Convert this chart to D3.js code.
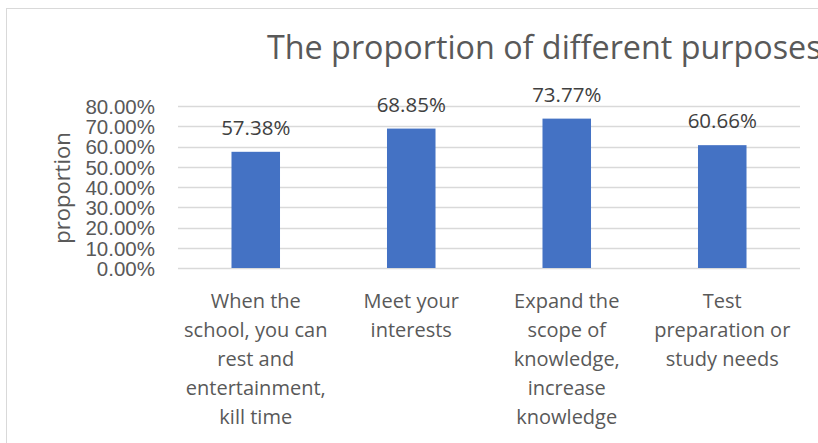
<!DOCTYPE html>
<html lang="en">
<head>
<meta charset="UTF-8">
<title>The proportion of different purposes</title>
<script src="https://d3js.org/d3.v7.min.js"></script>
<style>
    body { margin: 0; background: #fff; }
    svg { display: block; font-family: "Open Sans", sans-serif; }
    .tick text { fill: #595959; }
</style>
</head>
<body>
<div id="chart"></div>
<script>
    // 数据
    const categories = [
        ["When the", "school, you can", "rest and", "entertainment,", "kill time"],
        ["Meet your", "interests"],
        ["Expand the", "scope of", "knowledge,", "increase", "knowledge"],
        ["Test", "preparation or", "study needs"]
    ];
    const values = [0.5738, 0.6885, 0.7377, 0.6066];
    const yTicks = [0, 0.1, 0.2, 0.3, 0.4, 0.5, 0.6, 0.7, 0.8];

    const width = 818, height = 443;
    const plot = { left: 178, right: 800, top: 106, bottom: 268 };

    const svg = d3.select("#chart").append("svg")
        .attr("width", width)
        .attr("height", height);

    // 图表外框
    svg.append("rect")
        .attr("x", 6.5).attr("y", 8.5)
        .attr("width", 830).attr("height", 460)
        .attr("fill", "none")
        .attr("stroke", "#d9d9d9");

    const x = d3.scaleBand()
        .domain(d3.range(categories.length))
        .range([plot.left, plot.right])
        .paddingInner(0.688)
        .paddingOuter(0.344);

    const y = d3.scaleLinear()
        .domain([0, 0.8])
        .range([plot.bottom, plot.top]);

    // 网格线
    svg.append("g")
        .selectAll("line")
        .data(yTicks)
        .join("line")
        .attr("x1", plot.left).attr("x2", plot.right)
        .attr("y1", d => Math.round(y(d)) + 0.5)
        .attr("y2", d => Math.round(y(d)) + 0.5)
        .attr("stroke", "#d9d9d9")
        .attr("stroke-width", 1.3);

    // y轴
    const yAxis = svg.append("g")
        .attr("transform", `translate(${plot.left - 23},0)`)
        .call(d3.axisLeft(y).tickValues(yTicks).tickFormat(d3.format(".2%")).tickSize(0).tickPadding(0));
    yAxis.select(".domain").remove();
    yAxis.selectAll("text")
        .style("font-size", "20.5px")
        .attr("dy", "0.36em");

    // 柱子
    svg.append("g")
        .selectAll("rect")
        .data(values)
        .join("rect")
        .attr("x", (d, i) => x(i))
        .attr("y", d => y(d))
        .attr("width", x.bandwidth())
        .attr("height", d => y(0) - y(d))
        .attr("fill", "#4472c4");

    // 数值标签
    svg.append("g")
        .selectAll("text")
        .data(values)
        .join("text")
        .attr("x", (d, i) => x(i) + x.bandwidth() / 2)
        .attr("y", d => y(d) - 17)
        .attr("text-anchor", "middle")
        .attr("fill", "#404040")
        .style("font-size", "20.5px")
        .text(d => d3.format(".2%")(d));

    // x轴分类标签
    const xLabels = svg.append("g")
        .selectAll("text")
        .data(categories)
        .join("text")
        .attr("text-anchor", "middle")
        .attr("fill", "#595959")
        .style("font-size", "20px");
    xLabels.each(function(lines, i) {
        d3.select(this).selectAll("tspan")
            .data(lines)
            .join("tspan")
            .attr("x", x(i) + x.bandwidth() / 2)
            .attr("y", (d, j) => 308 + j * 29)
            .text(d => d);
    });

    // y轴标题
    svg.append("text")
        .attr("transform", "translate(70,188) rotate(-90)")
        .attr("text-anchor", "middle")
        .attr("fill", "#595959")
        .style("font-size", "22px")
        .text("proportion");

    // 标题
    svg.append("text")
        .attr("x", 267)
        .attr("y", 59)
        .attr("fill", "#595959")
        .style("font-size", "32.3px")
        .text("The proportion of different purposes");
</script>
</body>
</html>
